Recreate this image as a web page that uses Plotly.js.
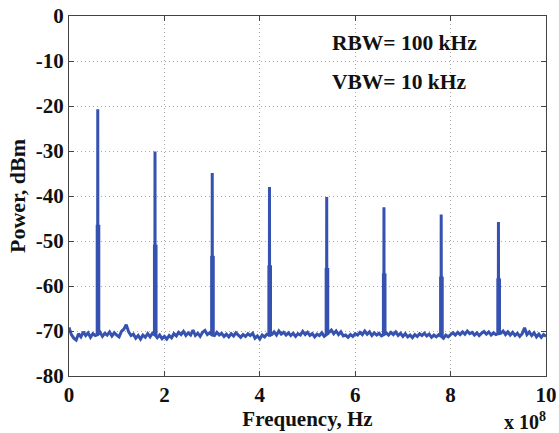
<!DOCTYPE html>
<html>
<head>
<meta charset="utf-8">
<script src="https://cdn.plot.ly/plotly-3.0.1.min.js"></script>
<style>html,body{margin:0;padding:0;background:#fff;}#plot{width:559px;height:433px;}</style>
</head>
<body>
<div id="plot"></div>
<script>
// Frequency grid in units of 1e8 Hz (step 0.05)
const noiseStart = 0, noiseStep = 0.05;
// Noise floor level (dBm), one value per grid point 0.00 .. 10.00
const noiseLevel = [
-69.2,-70.8,-71.6,-72.0,-70.6,-71.3,-70.2,-71.0,-70.4,-71.4,
-70.6,-71.0,-70.8,-70.3,-71.2,-70.5,-70.9,-70.2,-71.1,-70.4,
-70.9,-71.3,-70.1,-69.6,-68.6,-70.2,-71.0,-70.7,-71.6,-71.0,
-71.8,-70.9,-71.4,-70.6,-71.3,-70.5,-70.9,-71.5,-70.9,-71.7,
-71.2,-71.8,-71.0,-71.5,-70.6,-71.1,-70.3,-70.8,-70.1,-71.0,
-70.4,-70.9,-69.8,-71.0,-70.5,-71.2,-70.3,-69.9,-70.8,-70.4,
-70.9,-71.0,-70.3,-70.9,-70.5,-71.2,-70.7,-71.3,-70.6,-71.1,
-70.4,-70.9,-71.4,-70.8,-71.2,-70.6,-71.0,-70.5,-71.6,-71.1,
-71.8,-70.9,-71.3,-70.7,-70.9,-70.8,-70.2,-70.9,-70.0,-70.7,
-70.3,-70.9,-70.4,-71.0,-70.5,-71.2,-70.6,-70.9,-70.1,-70.8,
-70.3,-71.0,-70.6,-71.3,-70.7,-71.0,-70.4,-71.2,-70.8,-70.3,
-69.8,-70.6,-70.0,-70.8,-70.2,-71.1,-70.9,-71.4,-70.8,-71.2,
-70.6,-70.9,-70.3,-70.8,-70.0,-70.7,-70.2,-71.0,-70.4,-70.9,
-70.5,-71.1,-70.8,-70.4,-70.9,-70.3,-70.8,-70.2,-71.0,-70.5,
-71.2,-70.6,-71.3,-70.9,-71.5,-70.8,-71.2,-70.6,-71.0,-70.5,
-71.1,-70.7,-71.4,-70.9,-71.3,-70.8,-71.2,-71.6,-70.9,-71.3,
-70.8,-70.4,-70.9,-70.3,-70.8,-70.2,-70.7,-70.0,-70.6,-70.3,
-70.9,-70.4,-71.0,-70.5,-70.1,-70.7,-70.2,-70.9,-70.4,-70.8,
-70.6,-70.5,-70.0,-70.8,-70.2,-70.9,-70.3,-71.0,-70.5,-71.2,
-70.6,-69.3,-70.8,-70.2,-71.0,-70.4,-71.3,-70.7,-71.4,-70.8,
-71.2
];
// Harmonic peaks (x in 1e8 Hz), top level and lower shoulder level (dBm)
const peakFreq     = [0.6, 1.8, 3.0, 4.2, 5.4, 6.6, 7.8, 9.0];
const peakTop      = [-20.7, -30.1, -34.9, -38.0, -40.2, -42.5, -44.1, -45.8];
const peakShoulder = [-46.4, -50.8, -53.3, -55.4, -56.0, -57.2, -57.9, -58.3];
const yTickVals = [-80,-70,-60,-50,-40,-30,-20,-10,0];
const yTickText = ['-80','-70','-60','-50','-40','-30','-20','-10','0'];
const xTickVals = [0, 2, 4, 6, 8, 10];
const xTickText = ['0','2','4','6','8','10'];

// Main trace: noise floor with narrow peaks
const xs = [], ys = [];
// Shoulder trace: lower, wider part of each peak
const sx = [], sy = [];
for (let i = 0; i < noiseLevel.length; i++) {
  const f = +(noiseStart + i * noiseStep).toFixed(3);
  xs.push(f); ys.push(noiseLevel[i]);
  const k = peakFreq.findIndex(p => Math.abs(p - f) < 1e-6);
  if (k >= 0) {
    xs.push(f + 0.003); ys.push(peakTop[k]);
    xs.push(f + 0.006); ys.push(noiseLevel[i]);
    sx.push(f + 0.008, f + 0.008, null);
    sy.push(noiseLevel[i], peakShoulder[k], null);
  }
}

const serif = {family: 'Liberation Serif, Times New Roman, serif', size: 21, color: '#111', weight: 700};
const axisCommon = {
  showline: true, linecolor: '#444', linewidth: 1, mirror: 'ticks',
  ticks: 'inside', ticklen: 5, tickcolor: '#444',
  showgrid: true, gridcolor: '#a8a8a8', griddash: '1px,3px', gridwidth: 1,
  zeroline: false, tickfont: serif, automargin: false
};

const data = [{
  x: xs, y: ys, type: 'scatter', mode: 'lines',
  line: {color: '#3652b0', width: 3, simplify: false},
  hoverinfo: 'skip'
}, {
  x: sx, y: sy, type: 'scatter', mode: 'lines',
  line: {color: '#3652b0', width: 4.6},
  hoverinfo: 'skip'
}];

const layout = {
  width: 559, height: 433,
  margin: {l: 69, r: 13, t: 16, b: 57},
  paper_bgcolor: '#fff', plot_bgcolor: '#fff',
  showlegend: false,
  xaxis: Object.assign({}, axisCommon, {
    range: [0, 10], tickvals: xTickVals, ticktext: xTickText,
    title: {text: 'Frequency, Hz', font: Object.assign({}, serif, {size: 21}), standoff: 0}
  }),
  yaxis: Object.assign({}, axisCommon, {
    range: [-80, 0], tickvals: yTickVals, ticktext: yTickText,
    title: {text: 'Power, dBm', font: Object.assign({}, serif, {size: 22}), standoff: 4}
  }),
  annotations: [
    {x: 5.47, y: -6, xref: 'x', yref: 'y', xanchor: 'left', yanchor: 'middle', showarrow: false,
     text: 'RBW= 100 kHz', font: Object.assign({}, serif, {size: 21.5})},
    {x: 5.47, y: -14.7, xref: 'x', yref: 'y', xanchor: 'left', yanchor: 'middle', showarrow: false,
     text: 'VBW= 10 kHz', font: Object.assign({}, serif, {size: 21.5})},
    {x: 1.005, y: -0.125, xref: 'paper', yref: 'paper', xanchor: 'right', yanchor: 'middle', showarrow: false,
     text: 'x 10<sup>8</sup>', font: Object.assign({}, serif, {size: 20})}
  ]
};

Plotly.newPlot('plot', data, layout, {staticPlot: true, displayModeBar: false});
</script>
</body>
</html>
